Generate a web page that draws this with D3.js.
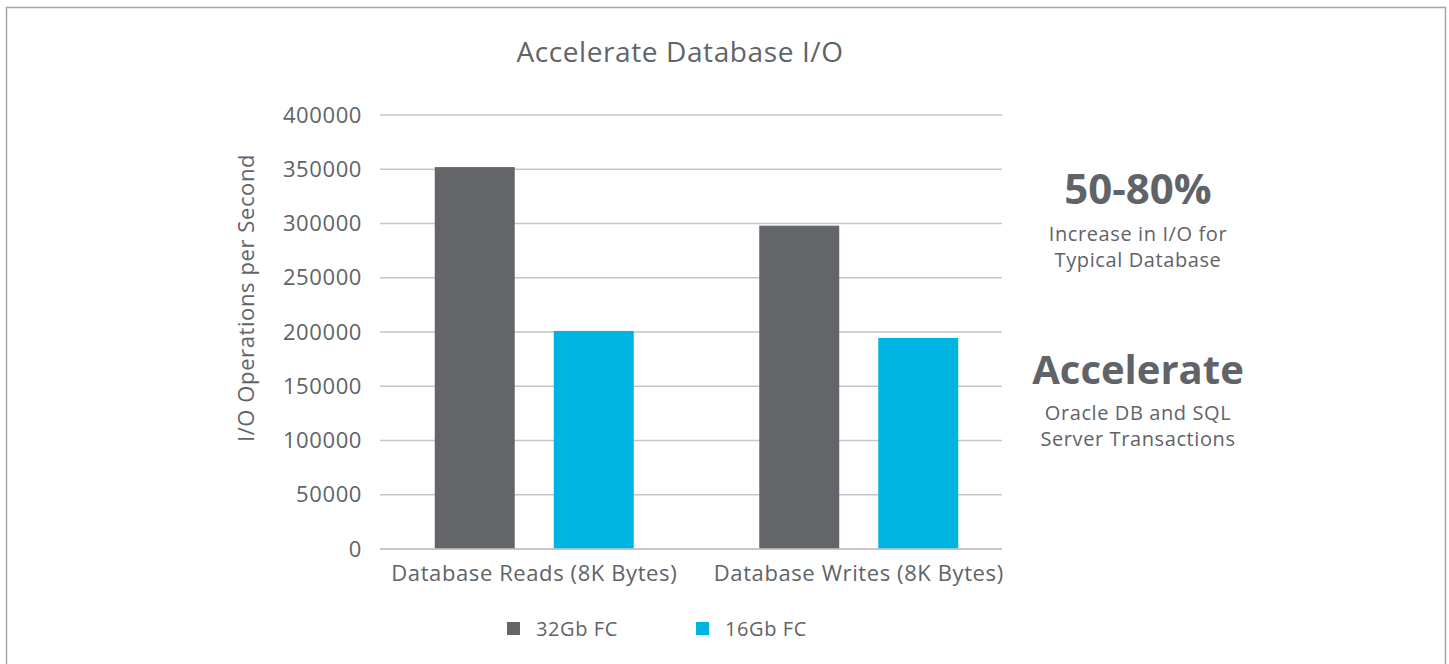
<!DOCTYPE html>
<html>
<head>
<meta charset="utf-8">
<script src="https://cdn.jsdelivr.net/npm/d3@7"></script>
<style>
  body { margin: 0; background: #fff; }
  svg text { font-family: "Open Sans", "Noto Sans", sans-serif; fill: #606368; letter-spacing: 0.6px; }
</style>
</head>
<body>
<div id="chart"></div>
<script>
// chart data
const categories = ['Database Reads (8K Bytes)', 'Database Writes (8K Bytes)'];
const seriesNames = ['32Gb FC', '16Gb FC'];
const fc32 = [352000, 298000];
const fc16 = [201000, 194500];
const yTicks = [0, 50000, 100000, 150000, 200000, 250000, 300000, 350000, 400000];
const colors = ['#636569', '#00b4e1'];

const width = 1449, height = 664;

const svg = d3.select('#chart')
  .append('svg')
  .attr('width', width)
  .attr('height', height);

// outer frame
svg.append('rect')
  .attr('x', 6.5).attr('y', 7.5)
  .attr('width', 1439).attr('height', 670)
  .attr('fill', 'none')
  .attr('stroke', '#a3a6a9')
  .attr('stroke-width', 1.5);

// scales
const plotLeft = 380, plotRight = 1002;
const y = d3.scaleLinear().domain([0, 400000]).range([549, 115]);
const x0 = d3.scaleBand().domain(categories).range([372, 1021]);
const x1 = d3.scaleBand().domain(seriesNames).range([-99.5, 99.5]).paddingInner(0.328);

// gridlines
svg.append('g')
  .selectAll('line')
  .data(yTicks)
  .join('line')
  .attr('x1', plotLeft).attr('x2', plotRight)
  .attr('y1', d => y(d)).attr('y2', d => y(d))
  .attr('stroke', '#c4c5c9')
  .attr('stroke-width', 1.5);

// y axis tick labels
const yAxis = svg.append('g')
  .attr('transform', `translate(${plotLeft - 18},0)`)
  .call(d3.axisLeft(y).tickValues(yTicks).tickSize(0).tickPadding(0).tickFormat(d3.format('d')));
yAxis.select('.domain').remove();
yAxis.selectAll('text')
  .style('font-size', '22px')
  .style('font-family', '"Open Sans", sans-serif')
  .attr('fill', '#606368');

// bars
const rows = categories.map((c, i) => ({ cat: c, values: [fc32[i], fc16[i]] }));
const groups = svg.append('g')
  .selectAll('g')
  .data(rows)
  .join('g')
  .attr('transform', d => `translate(${x0(d.cat) + x0.bandwidth() / 2},0)`);

groups.selectAll('rect')
  .data(d => d.values.map((v, j) => ({ name: seriesNames[j], value: v, idx: j })))
  .join('rect')
  .attr('x', d => x1(d.name))
  .attr('width', x1.bandwidth())
  .attr('y', d => y(d.value))
  .attr('height', d => y(0) - y(d.value))
  .attr('fill', d => colors[d.idx]);

// x axis line redrawn over bars
svg.append('line')
  .attr('x1', plotLeft).attr('x2', plotRight)
  .attr('y1', y(0)).attr('y2', y(0))
  .attr('stroke', '#c4c5c9')
  .attr('stroke-width', 1.5);

// x axis labels
const xAxis = svg.append('g')
  .attr('transform', `translate(0,${y(0) + 16})`)
  .call(d3.axisBottom(x0).tickSize(0).tickPadding(0));
xAxis.select('.domain').remove();
xAxis.selectAll('text')
  .style('font-size', '22px')
  .style('font-family', '"Open Sans", sans-serif')
  .attr('fill', '#606368');

// title
svg.append('text')
  .attr('x', 680).attr('y', 62)
  .attr('text-anchor', 'middle')
  .style('font-size', '28px')
  .text('Accelerate Database I/O');

// y label
svg.append('text')
  .attr('transform', `translate(254,298)rotate(-90)`)
  .attr('text-anchor', 'middle')
  .style('font-size', '22px')
  .text('I/O Operations per Second');

// right side callouts
const callouts = [
  { text: '50-80%', y: 204, size: 42, bold: true },
  { text: 'Increase in I/O for', y: 241, size: 20 },
  { text: 'Typical Database', y: 267, size: 20 },
  { text: 'Accelerate', y: 384, size: 40, bold: true },
  { text: 'Oracle DB and SQL', y: 420, size: 20 },
  { text: 'Server Transactions', y: 446, size: 20 }
];
svg.append('g')
  .selectAll('text')
  .data(callouts)
  .join('text')
  .attr('x', 1138)
  .attr('y', d => d.y)
  .attr('text-anchor', 'middle')
  .style('font-size', d => d.size + 'px')
  .style('font-weight', d => d.bold ? 700 : 400)
  .style('letter-spacing', d => d.bold ? '0px' : null)
  .text(d => d.text);

// legend
const legendX = [507, 696];
const legend = svg.append('g')
  .selectAll('g')
  .data(seriesNames)
  .join('g')
  .attr('transform', (d, i) => `translate(${legendX[i]},622)`);
legend.append('rect')
  .attr('width', 13).attr('height', 13)
  .attr('fill', (d, i) => colors[i]);
legend.append('text')
  .attr('x', 29).attr('y', 14)
  .style('font-size', '20px')
  .text(d => d);
</script>
</body>
</html>
